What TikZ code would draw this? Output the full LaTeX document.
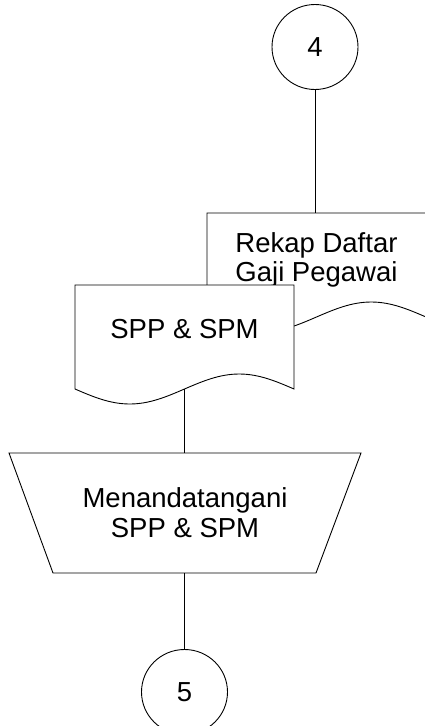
\documentclass[tikz,border=0pt]{standalone}
\usepackage{fontspec}
\setmainfont{Liberation Sans}
\usetikzlibrary{shapes.geometric}

\begin{document}
\begin{tikzpicture}[x=1pt,y=-1pt,
  line width=0.9pt,
  txt/.style={font=\fontsize{27.5}{29.5}\selectfont, align=center, inner sep=0pt},
  offpage/.style={ellipse, draw, fill=white, minimum width=86pt, minimum height=85pt,
    inner sep=0pt, font=\fontsize{27.5}{29.5}\selectfont},
  docshape/.style={draw, fill=white, line join=miter},
  procshape/.style={draw, fill=white},
  link/.style={draw}]
\useasboundingbox (0,0) rectangle (425,726);
\clip (0,0) rectangle (425,726);

% off-page connectors
\node[offpage] (c4) at (315,47) {4};
\node[offpage] (c5) at (184.5,692) {5};

% document: Rekap Daftar Gaji Pegawai (partly behind the next one)
\draw[docshape] (207,317) -- (207,213) -- (426,213) -- (426,317)
  sin (371.25,302) cos (316.5,317) sin (261.75,332) cos (207,317) -- cycle;
\coordinate (rekaptop) at (315,213);
\node[txt] (rekap) at (316.5,260) {Rekap Daftar\\Gaji Pegawai};

% document: SPP & SPM
\draw[docshape] (75,389) -- (75,285) -- (294,285) -- (294,389)
  sin (239.25,374) cos (184.5,389) sin (129.75,404) cos (75,389) -- cycle;
\coordinate (sppbot) at (184.5,389);
\node[txt] (spp) at (184.5,329) {SPP \& SPM};

% manual operation
\draw[procshape] (9,453) -- (361,453) -- (316,573) -- (53,573) -- cycle;
\coordinate (ttdtop) at (184.5,453);
\coordinate (ttdbot) at (184.5,573);
\node[txt] (ttd) at (185,512.5) {Menandatangani\\SPP \& SPM};

% flow lines
\draw[link] (c4.south) -- (rekaptop);
\draw[link] (sppbot) -- (ttdtop);
\draw[link] (ttdbot) -- (c5.north);
\end{tikzpicture}
\end{document}
